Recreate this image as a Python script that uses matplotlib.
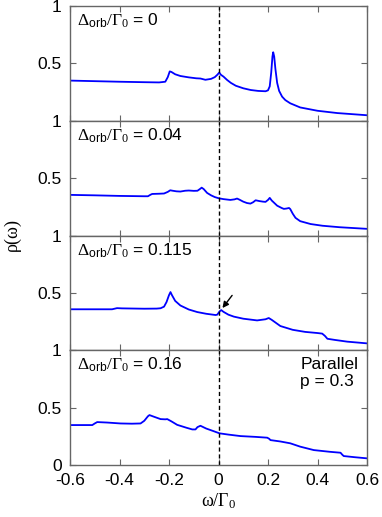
import matplotlib
matplotlib.use("Agg")
import matplotlib.pyplot as plt

plt.rcParams['font.family'] = ['Liberation Sans', 'DejaVu Sans']
plt.rcParams['mathtext.fontset'] = 'custom'
plt.rcParams['mathtext.rm'] = 'Liberation Serif'
plt.rcParams['mathtext.it'] = 'Liberation Serif'
plt.rcParams['mathtext.sf'] = 'Liberation Sans'

# ---- data ----
x0 = [-0.6, -0.5, -0.4, -0.3, -0.24, -0.215, -0.205, -0.197, -0.19, -0.175, -0.154, -0.12, -0.09,
      -0.073, -0.053, -0.03, -0.015, -0.005, 0.003, 0.01, 0.02, 0.035, 0.05, 0.07, 0.1, 0.13, 0.16,
      0.19, 0.2, 0.207, 0.213, 0.218, 0.221, 0.225, 0.23, 0.237, 0.245, 0.257, 0.27, 0.29, 0.33,
      0.4, 0.48, 0.6]
y0 = [0.35, 0.345, 0.34, 0.336, 0.334, 0.34, 0.38, 0.43, 0.425, 0.405, 0.39, 0.378, 0.37,
      0.368, 0.357, 0.365, 0.38, 0.40, 0.42, 0.40, 0.385, 0.355, 0.33, 0.305, 0.283, 0.268, 0.26,
      0.257, 0.265, 0.30, 0.42, 0.56, 0.597, 0.56, 0.45, 0.33, 0.26, 0.21, 0.18, 0.152, 0.116,
      0.087, 0.067, 0.048]

x1 = [-0.6, -0.5, -0.4, -0.3, -0.285, -0.275, -0.268, -0.24, -0.22, -0.205, -0.195, -0.185,
      -0.17, -0.154, -0.135, -0.12, -0.1, -0.085, -0.075, -0.068, -0.06, -0.046, -0.03, -0.015,
      0.0, 0.02, 0.048, 0.065, 0.075, 0.085, 0.1, 0.115, 0.129, 0.14, 0.15, 0.165, 0.18, 0.19,
      0.2, 0.207, 0.215, 0.237, 0.255, 0.264, 0.275, 0.285, 0.29, 0.3, 0.311, 0.33, 0.372, 0.42,
      0.49, 0.6]
y1 = [0.354, 0.35, 0.345, 0.342, 0.342, 0.355, 0.362, 0.364, 0.366, 0.38, 0.394, 0.39,
      0.385, 0.383, 0.39, 0.392, 0.389, 0.39, 0.405, 0.417, 0.405, 0.371, 0.35, 0.335,
      0.325, 0.317, 0.31, 0.315, 0.322, 0.312, 0.295, 0.283, 0.278, 0.29, 0.307, 0.3, 0.295, 0.293,
      0.31, 0.328, 0.305, 0.26, 0.24, 0.232, 0.235, 0.24, 0.23, 0.19, 0.154, 0.125, 0.1, 0.085,
      0.072, 0.058]

x2 = [-0.6, -0.5, -0.43, -0.42, -0.41, -0.39, -0.3, -0.25, -0.234, -0.22, -0.21, -0.2, -0.194,
      -0.188, -0.175, -0.154, -0.12, -0.086, -0.05, -0.012, -0.005, 0.005, 0.011, 0.02, 0.04,
      0.062, 0.1, 0.156, 0.19, 0.203, 0.215, 0.25, 0.3, 0.35, 0.4, 0.419, 0.43, 0.44, 0.47, 0.52,
      0.6]
y2 = [0.357, 0.357, 0.357, 0.362, 0.367, 0.365, 0.362, 0.363, 0.366, 0.38, 0.42, 0.48, 0.507,
      0.48, 0.43, 0.39, 0.355, 0.333, 0.318, 0.307, 0.31, 0.34, 0.35, 0.335, 0.31,
      0.293, 0.275, 0.26, 0.27, 0.281, 0.265, 0.211, 0.178, 0.16, 0.15, 0.145, 0.125, 0.1, 0.09,
      0.075, 0.06]

x3 = [-0.6, -0.51, -0.5, -0.49, -0.45, -0.396, -0.35, -0.315, -0.3, -0.285, -0.279, -0.26,
      -0.234, -0.215, -0.207, -0.19, -0.167, -0.13, -0.106, -0.093, -0.085, -0.073, -0.05, -0.02,
      0.004, 0.04, 0.089, 0.15, 0.197, 0.205, 0.21, 0.25, 0.29, 0.33, 0.385, 0.45, 0.493, 0.5,
      0.506, 0.55, 0.6]
y3 = [0.348, 0.348, 0.362, 0.374, 0.37, 0.362, 0.36, 0.362, 0.385, 0.425, 0.435, 0.42,
      0.4, 0.398, 0.4, 0.38, 0.35, 0.325, 0.31, 0.31, 0.33, 0.342, 0.318, 0.295,
      0.276, 0.265, 0.252, 0.245, 0.238, 0.228, 0.217, 0.205, 0.189, 0.16, 0.13, 0.115, 0.107, 0.09,
      0.078, 0.068, 0.058]

series_x = [x0, x1, x2, x3]
series_y = [y0, y1, y2, y3]
delta_labels = ['0', '0.04', '0.115', '0.16']
xticks = [-0.6, -0.4, -0.2, 0, 0.2, 0.4, 0.6]
xticklabels = ['-0.6', '-0.4', '-0.2', '0', '0.2', '0.4', '0.6']

# ---- figure ----
fig = plt.figure(figsize=(3.82, 5.17), dpi=100)
left, right = 70 / 382, 367 / 382
top, bottom = 1 - 6 / 517, 1 - 465 / 517
gs = fig.add_gridspec(4, 1, left=left, right=right, top=top, bottom=bottom, hspace=0)

spine_col = '0.4'
axes = []
for i in range(4):
    ax = fig.add_subplot(gs[i, 0])
    axes.append(ax)
    ax.plot(series_x[i], series_y[i], color='#0000ff', lw=1.3)
    ax.axvline(0, color='black', ls=(0, (3, 2)), lw=1.0)
    ax.set_xlim(-0.6, 0.6)
    ax.set_ylim(0, 1)
    ax.set_xticks(xticks)
    ax.set_yticks([0, 0.5, 1])
    if i == 3:
        ax.set_yticklabels(['0', '0.5', '1'])
        ax.set_xticklabels(xticklabels)
    else:
        ax.set_yticklabels(['', '0.5', '1'])
        ax.set_xticklabels([])
    ax.tick_params(direction='in', top=True, right=True, length=4, width=0.8,
                   color=spine_col, labelsize=12.5, pad=6)
    for s in ax.spines.values():
        s.set_color(spine_col)
        s.set_linewidth(1.0)
    ax.text(0.024, 0.87, r'$\Delta_{\mathsf{orb}}/\Gamma_0$' + ' = ' + delta_labels[i],
            transform=ax.transAxes, fontsize=12.5, va='center', ha='left')

axes[2].annotate('', xy=(0.016, 0.368), xytext=(0.055, 0.478),
                 arrowprops=dict(arrowstyle='-|>', color='black', lw=1.0,
                                 mutation_scale=9, shrinkA=0, shrinkB=0))

axes[3].text(0.775, 0.80, 'Parallel\np = 0.3', transform=axes[3].transAxes,
             fontsize=12.5, va='center', ha='left', linespacing=1.15)

axes[3].set_xlabel(r'$\omega/\Gamma_0$', fontsize=13, labelpad=2)
fig.text(0.035, (top + bottom) / 2, r'$\rho(\omega)$', rotation=90, fontsize=13,
         va='center', ha='center')

fig.savefig('out.png', dpi=100)
